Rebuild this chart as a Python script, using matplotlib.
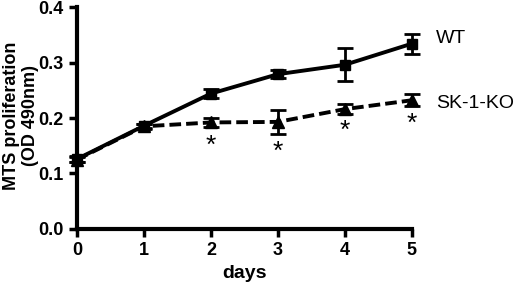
import matplotlib
matplotlib.use("Agg")
import matplotlib.pyplot as plt

days = [0, 1, 2, 3, 4, 5]
wt = [0.126, 0.186, 0.244, 0.279, 0.296, 0.334]
wt_err = [0.005, 0.004, 0.008, 0.007, 0.030, 0.018]
ko = [0.125, 0.185, 0.192, 0.193, 0.216, 0.232]
ko_err = [0.004, 0.004, 0.008, 0.021, 0.009, 0.011]
star_days = [2, 3, 4, 5]
star_y = [0.150, 0.139, 0.176, 0.189]
yticks = [0.0, 0.1, 0.2, 0.3, 0.4]

plt.rcParams['font.family'] = ['Liberation Sans', 'DejaVu Sans']
plt.rcParams['font.weight'] = 'bold'

fig = plt.figure(figsize=(5.2, 2.83), dpi=100)
ax = fig.add_axes([0.148, 0.191, 0.644, 0.784])

ax.errorbar(days, wt, yerr=wt_err, color='black', lw=2.8, marker='s', ms=7,
            capsize=5.5, capthick=2, elinewidth=2, clip_on=False, zorder=3)
ax.errorbar(days, ko, yerr=ko_err, color='black', lw=2.8, ls=(0, (3, 1.3)), marker='^', ms=8,
            capsize=5.5, capthick=2, elinewidth=2, clip_on=False, zorder=3)

for d, y in zip(star_days, star_y):
    ax.text(d, y, '*', ha='center', va='center', fontsize=19, fontweight='normal')

ax.text(5.36, wt[-1] + 0.01, 'WT', ha='left', va='center', fontsize=14, fontweight='normal')
ax.text(5.36, ko[-1] - 0.006, 'SK-1-KO', ha='left', va='center', fontsize=14, fontweight='normal')

ax.set_xlim(0, 5)
ax.set_ylim(0, 0.4)
ax.set_xticks(days)
ax.set_yticks(yticks)
ax.set_yticklabels([f'{v:.1f}' for v in yticks])
for s in ['top', 'right']:
    ax.spines[s].set_visible(False)
for s in ['left', 'bottom']:
    ax.spines[s].set_linewidth(3)
ax.tick_params(width=2.5, length=6, labelsize=13)
for lab in ax.get_xticklabels() + ax.get_yticklabels():
    lab.set_fontweight('bold')

ax.set_xlabel('days', fontsize=14, fontweight='bold')
ax.xaxis.set_label_coords(0.5, -0.2)
ax.xaxis.label.set_va('center')
ax.set_ylabel('MTS proliferation\n(OD 490nm)', fontsize=13, fontweight='bold', linespacing=1.15)
ax.yaxis.set_label_coords(-0.168, 0.51)
ax.yaxis.label.set_va('center')

fig.savefig('out.png', dpi=100)
